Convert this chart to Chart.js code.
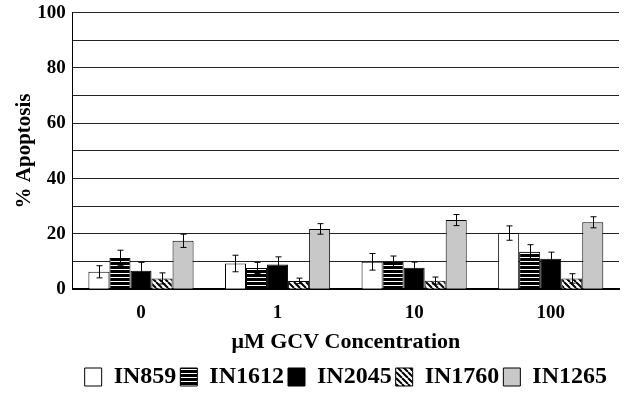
<!DOCTYPE html>
<html>
<head>
<meta charset="utf-8">
<script src="https://cdn.jsdelivr.net/npm/chart.js@4.4.0/dist/chart.umd.min.js"></script>
<style>
  html, body { margin: 0; padding: 0; background: #fff; }
  #wrap { width: 640px; height: 393px; }
</style>
</head>
<body>
<div id="wrap"><canvas id="apoptosis"></canvas></div>
<script>
// GCV concentrations (uM)
var categories = ['0', '1', '10', '100'];
var seriesNames = ['IN859', 'IN1612', 'IN2045', 'IN1760', 'IN1265'];

// % apoptosis, one array per cell line
var in859  = [6.3, 9.3, 9.9, 20.3];
var in1612 = [11.3, 7.7, 9.8, 13.5];
var in2045 = [6.7, 8.9, 7.8, 11.0];
var in1760 = [3.9, 3.0, 3.1, 3.9];
var in1265 = [17.5, 21.8, 25.0, 24.2];

// error bar half-lengths
var err859  = [2.2, 3.0, 3.0, 2.6];
var err1612 = [2.8, 2.0, 2.2, 2.6];
var err2045 = [3.0, 2.8, 2.0, 2.4];
var err1760 = [2.0, 1.0, 1.3, 1.7];
var err1265 = [2.4, 1.9, 2.0, 2.0];

var yTicks = [0, 20, 40, 60, 80, 100];

function makePattern(kind) {
    var c = document.createElement('canvas');
    var ctx = c.getContext('2d');
    if (kind === 'horiz') {
        c.width = 4; c.height = 4;
        ctx.fillStyle = '#000';
        ctx.fillRect(0, 0, 4, 4);
        ctx.fillStyle = '#fff';
        ctx.fillRect(0, 1, 4, 1);
    } else {
        c.width = 6; c.height = 6;
        ctx.fillStyle = '#fff';
        ctx.fillRect(0, 0, 6, 6);
        ctx.strokeStyle = '#000';
        ctx.lineWidth = 2;
        ctx.beginPath();
        for (var k = -6; k <= 12; k += 6) {
            ctx.moveTo(k, 0);
            ctx.lineTo(k + 6, 6);
        }
        ctx.stroke();
    }
    return ctx.createPattern(c, 'repeat');
}

var fills = ['#ffffff', makePattern('horiz'), '#000000', makePattern('diag'), '#c8c8c8'];
var values = [in859, in1612, in2045, in1760, in1265];
var errors = [err859, err1612, err2045, err1760, err1265];

var datasets = [];
for (var i = 0; i < seriesNames.length; i++) {
    datasets.push({
        label: seriesNames[i],
        data: values[i],
        errors: errors[i],
        backgroundColor: fills[i],
        borderColor: '#000',
        borderWidth: 1,
        categoryPercentage: 0.77,
        barPercentage: 1.0
    });
}

// draws the +/- error whiskers on top of each bar
var errorBars = {
    id: 'errorBars',
    afterDatasetsDraw: function (chart) {
        var ctx = chart.ctx;
        var y = chart.scales.y;
        ctx.save();
        ctx.strokeStyle = '#000';
        ctx.lineWidth = 1;
        chart.data.datasets.forEach(function (ds, di) {
            var meta = chart.getDatasetMeta(di);
            meta.data.forEach(function (bar, j) {
                var v = ds.data[j], e = ds.errors[j];
                var x = Math.round(bar.x) + 0.5;
                var yHi = y.getPixelForValue(v + e);
                var yLo = y.getPixelForValue(v - e);
                ctx.beginPath();
                ctx.moveTo(x, yLo); ctx.lineTo(x, yHi);
                ctx.moveTo(x - 3, yHi); ctx.lineTo(x + 3, yHi);
                ctx.moveTo(x - 3, yLo); ctx.lineTo(x + 3, yLo);
                ctx.stroke();
            });
        });
        ctx.restore();
    }
};

var serif = '"Liberation Serif", "Times New Roman", serif';

var apoptosisChart = new Chart(document.getElementById('apoptosis').getContext('2d'), {
    type: 'bar',
    data: { labels: categories, datasets: datasets },
    plugins: [errorBars],
    options: {
        responsive: true,
        maintainAspectRatio: false,
        animation: false,
        layout: { padding: { top: -6, right: 21, left: 12, bottom: -6 } },
        plugins: {
            tooltip: { enabled: false },
            legend: {
                position: 'bottom',
                fullSize: false,
                labels: {
                    color: '#000',
                    boxWidth: 17,
                    boxHeight: 18,
                    padding: 4,
                    font: { family: serif, size: 24, weight: 'bold', lineHeight: 1 }
                }
            }
        },
        scales: {
            x: {
                grid: { display: false, drawTicks: false },
                border: { color: '#000', width: 2 },
                ticks: {
                    color: '#000',
                    padding: 12,
                    font: { family: serif, size: 19, weight: 'bold' }
                },
                title: {
                    display: true,
                    text: '\u03bcM GCV Concentration',
                    color: '#000',
                    padding: { top: -5, bottom: 8 },
                    font: { family: serif, size: 22, weight: 'bold', lineHeight: 1 }
                }
            },
            y: {
                min: 0,
                max: 100,
                grid: { color: '#222', lineWidth: 1, drawTicks: false },
                border: { color: '#000', width: 1 },
                ticks: {
                    stepSize: 10,
                    color: '#000',
                    padding: 7,
                    font: { family: serif, size: 19, weight: 'bold', lineHeight: 0.6 },
                    callback: function (v) { return yTicks.indexOf(v) >= 0 ? v : ''; }
                },
                title: {
                    display: true,
                    text: '% Apoptosis',
                    color: '#000',
                    padding: { top: 0, bottom: -7 },
                    font: { family: serif, size: 21, weight: 'bold' }
                }
            }
        }
    }
});
</script>
</body>
</html>
